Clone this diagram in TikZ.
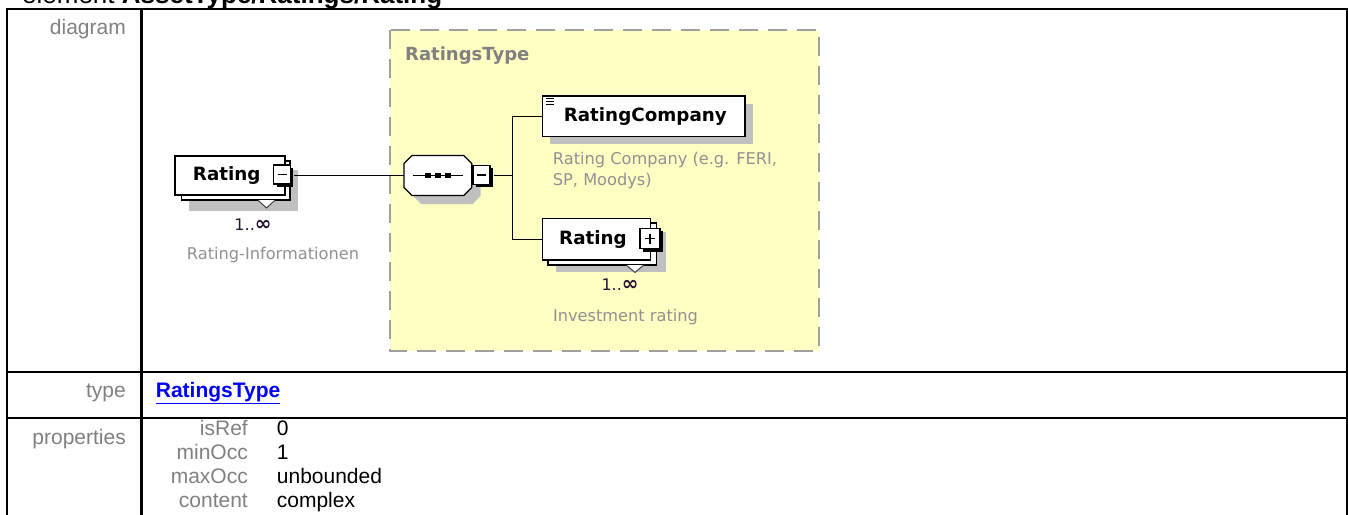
\documentclass[tikz,border=0pt]{standalone}
\usepackage{fontspec}
\setmainfont{Liberation Sans}
\newfontfamily\djv{DejaVu Sans}
\usetikzlibrary{calc}
\definecolor{lbl}{RGB}{128,128,128}
\definecolor{ann}{RGB}{145,145,145}
\definecolor{ylw}{RGB}{255,255,196}
\definecolor{dsh}{RGB}{160,160,160}
\definecolor{shd}{RGB}{192,192,192}
\definecolor{lnk}{RGB}{0,0,255}
\definecolor{occ}{RGB}{40,20,50}
\newcommand{\infsym}{{\bfseries\fontsize{20}{20}\selectfont ∞}}
\begin{document}
\begin{tikzpicture}[x=1pt,y=-1pt,
  frameline/.style={line width=2.2pt, black},
  lbltxt/.style={text=lbl, font=\fontsize{21}{24}\selectfont, inner sep=0, anchor=mid east},
  valtxt/.style={text=black, font=\fontsize{21}{24}\selectfont, inner sep=0, anchor=mid west},
  elbox/.style={draw=black, line width=1.3pt, fill=white, inner sep=0, rectangle},
  shadowbox/.style={fill=shd, draw=none},
  eltxt/.style={font=\djv\bfseries\fontsize{18.3}{22}\selectfont, inner sep=0, text=black},
  anntxt/.style={font=\djv\fontsize{16.2}{21}\selectfont, inner sep=0, text=ann},
  occtxt/.style={font=\djv\fontsize{16}{20}\selectfont, inner sep=0, text=occ},
  conn/.style={line width=1.3pt, black},
  togglebox/.style={draw=black, line width=1.2pt, fill=white, inner sep=0, minimum width=17pt, minimum height=19pt, rectangle},
  togshadow/.style={fill=black, draw=none}
]
\useasboundingbox (0,0) rectangle (1348,514);
\clip (0,0) rectangle (1348,514);

% title (cut off at the top in the reference)
\node[anchor=base west, inner sep=0, font=\fontsize{26}{30}\selectfont] (title) at (22,3.2) {element \textbf{AssetType/Ratings/Rating}};

% table frame
\draw[frameline] (7,530) -- (7,9) -- (1346.7,9) -- (1346.7,530);
\draw[frameline] (141.5,9) -- (141.5,530);
\draw[frameline] (7,372) -- (1346.7,372);
\draw[frameline] (7,418) -- (1346.7,418);

% left column labels
\node[lbltxt] (ldiag) at (126,32) {diagram};
\node[lbltxt] (ltype) at (126,395) {type};
\node[lbltxt] (lprop) at (126,441.7) {properties};

% type link
\node[anchor=mid west, inner sep=0, text=lnk, font=\bfseries\fontsize{21}{24}\selectfont] (typelink) at (155.7,395) {\underline{RatingsType}};

% properties
\node[lbltxt] (kisref) at (248,432.7) {isRef};
\node[lbltxt] (kmin) at (248,456.7) {minOcc};
\node[lbltxt] (kmax) at (248,480.7) {maxOcc};
\node[lbltxt] (kcont) at (248,504.7) {content};
\node[valtxt] (visref) at (276.7,432.7) {0};
\node[valtxt] (vmin) at (276.7,456.7) {1};
\node[valtxt] (vmax) at (276.7,480.7) {unbounded};
\node[valtxt] (vcont) at (276.7,504.7) {complex};

% complex type box
\draw[fill=ylw, draw=dsh, line width=2pt, dash pattern=on 19pt off 10pt] (390,30) rectangle (819,350.7);
\node[anchor=mid west, inner sep=0, text=lbl, font=\djv\bfseries\fontsize{18}{22}\selectfont] (ctype) at (405,58) {RatingsType};

\coordinate (j) at (512.7,175.5);

% ---------- Rating (left) ----------
\fill[shadowbox] (189,170) rectangle (298,210.7);
\node[elbox, minimum width=108.3pt, minimum height=39pt] (r1back) at (235.8,180.5) {};
\draw[draw=black!75, fill=white, line width=1pt] (258,200.2) -- (266.5,208) -- (275,200.2);
\node[elbox, minimum width=110pt, minimum height=39pt] (r1) at (230,175.5) {};
\node[eltxt] (r1t) at (226.7,175.5) {Rating};
\fill[togshadow] (277,168) rectangle (293,187);
\node[togglebox] (r1m) at (282,174.5) {};
\draw[line width=1.2pt] (277.5,174.5) -- (286.5,174.5);
\node[occtxt] (r1o) at (253,225) {1..\infsym};
\node[anntxt] (r1a) at (273,255) {Rating-Informationen};

% ---------- sequence compositor ----------
\fill[shd] (413,164) -- (472.7,164) -- (480.7,172) -- (480.7,196) -- (472.7,204) -- (421,204) -- (413,196) -- cycle;
\node[inner sep=0, minimum width=67.7pt, minimum height=40pt] (seq) at (437.85,175.5) {};
\draw[line width=1.3pt, fill=white] (412,155.5) -- (463.7,155.5) -- (471.7,163.5) -- (471.7,187.5) -- (463.7,195.5) -- (412,195.5) -- (404,187.5) -- (404,163.5) -- cycle;
\draw[line width=1.3pt] (413,175.5) -- (463,175.5);
\foreach \sx in {428,438,448} \fill (\sx-2.7,173) rectangle (\sx+2.7,178.2);
\fill[togshadow] (476,168) rectangle (493,187);
\node[togglebox] (seqm) at (481.5,175) {};
\draw[line width=1.2pt] (477,175) -- (486,175);

% ---------- RatingCompany ----------
\fill[shadowbox] (550,104) rectangle (752.7,144);
\node[elbox, minimum width=202.7pt, minimum height=40.7pt] (rc) at (643.65,116.35) {};
\node[eltxt] (rct) at (645.3,116.7) {RatingCompany};
\foreach \ly in {98.7,101.4,104.1} \draw[line width=0.9pt] (545.5,\ly) -- (553.5,\ly);
\node[anntxt, anchor=mid west] (rca1) at (552.7,161.7) {Rating Company (e.g. FERI,};
\node[anntxt, anchor=mid west] (rca2) at (552.7,183) {SP, Moodys)};

% ---------- Rating (right) ----------
\fill[shadowbox] (556,232) rectangle (666,271.7);
\node[elbox, minimum width=108.7pt, minimum height=42pt] (r2back) at (602.35,244) {};
\draw[draw=black!75, fill=white, line width=1pt] (626.5,265.2) -- (635,272.5) -- (643.5,265.2);
\node[elbox, minimum width=108pt, minimum height=41.7pt] (r2) at (596.7,239.15) {};
\node[eltxt] (r2t) at (593,239.3) {Rating};
\fill[togshadow] (643,231) rectangle (663,251.7);
\node[togglebox, minimum width=20pt, minimum height=20pt] (r2p) at (650,238.5) {};
\draw[line width=1.2pt] (645,238.5) -- (655,238.5);
\draw[line width=1.2pt] (650,233.5) -- (650,243.5);
\node[occtxt] (r2o) at (620,285) {1..\infsym};
\node[anntxt] (r2a) at (625.5,316.7) {Investment rating};

% connectors
\draw[conn] (r1m.east) ++(3,1) -- (seq.west);
\draw[conn] (seqm.east) ++(3,0.5) -- (j);
\draw[conn] (rc.west) -| (j);
\draw[conn] (r2.west) -| (j);
\end{tikzpicture}
\end{document}
